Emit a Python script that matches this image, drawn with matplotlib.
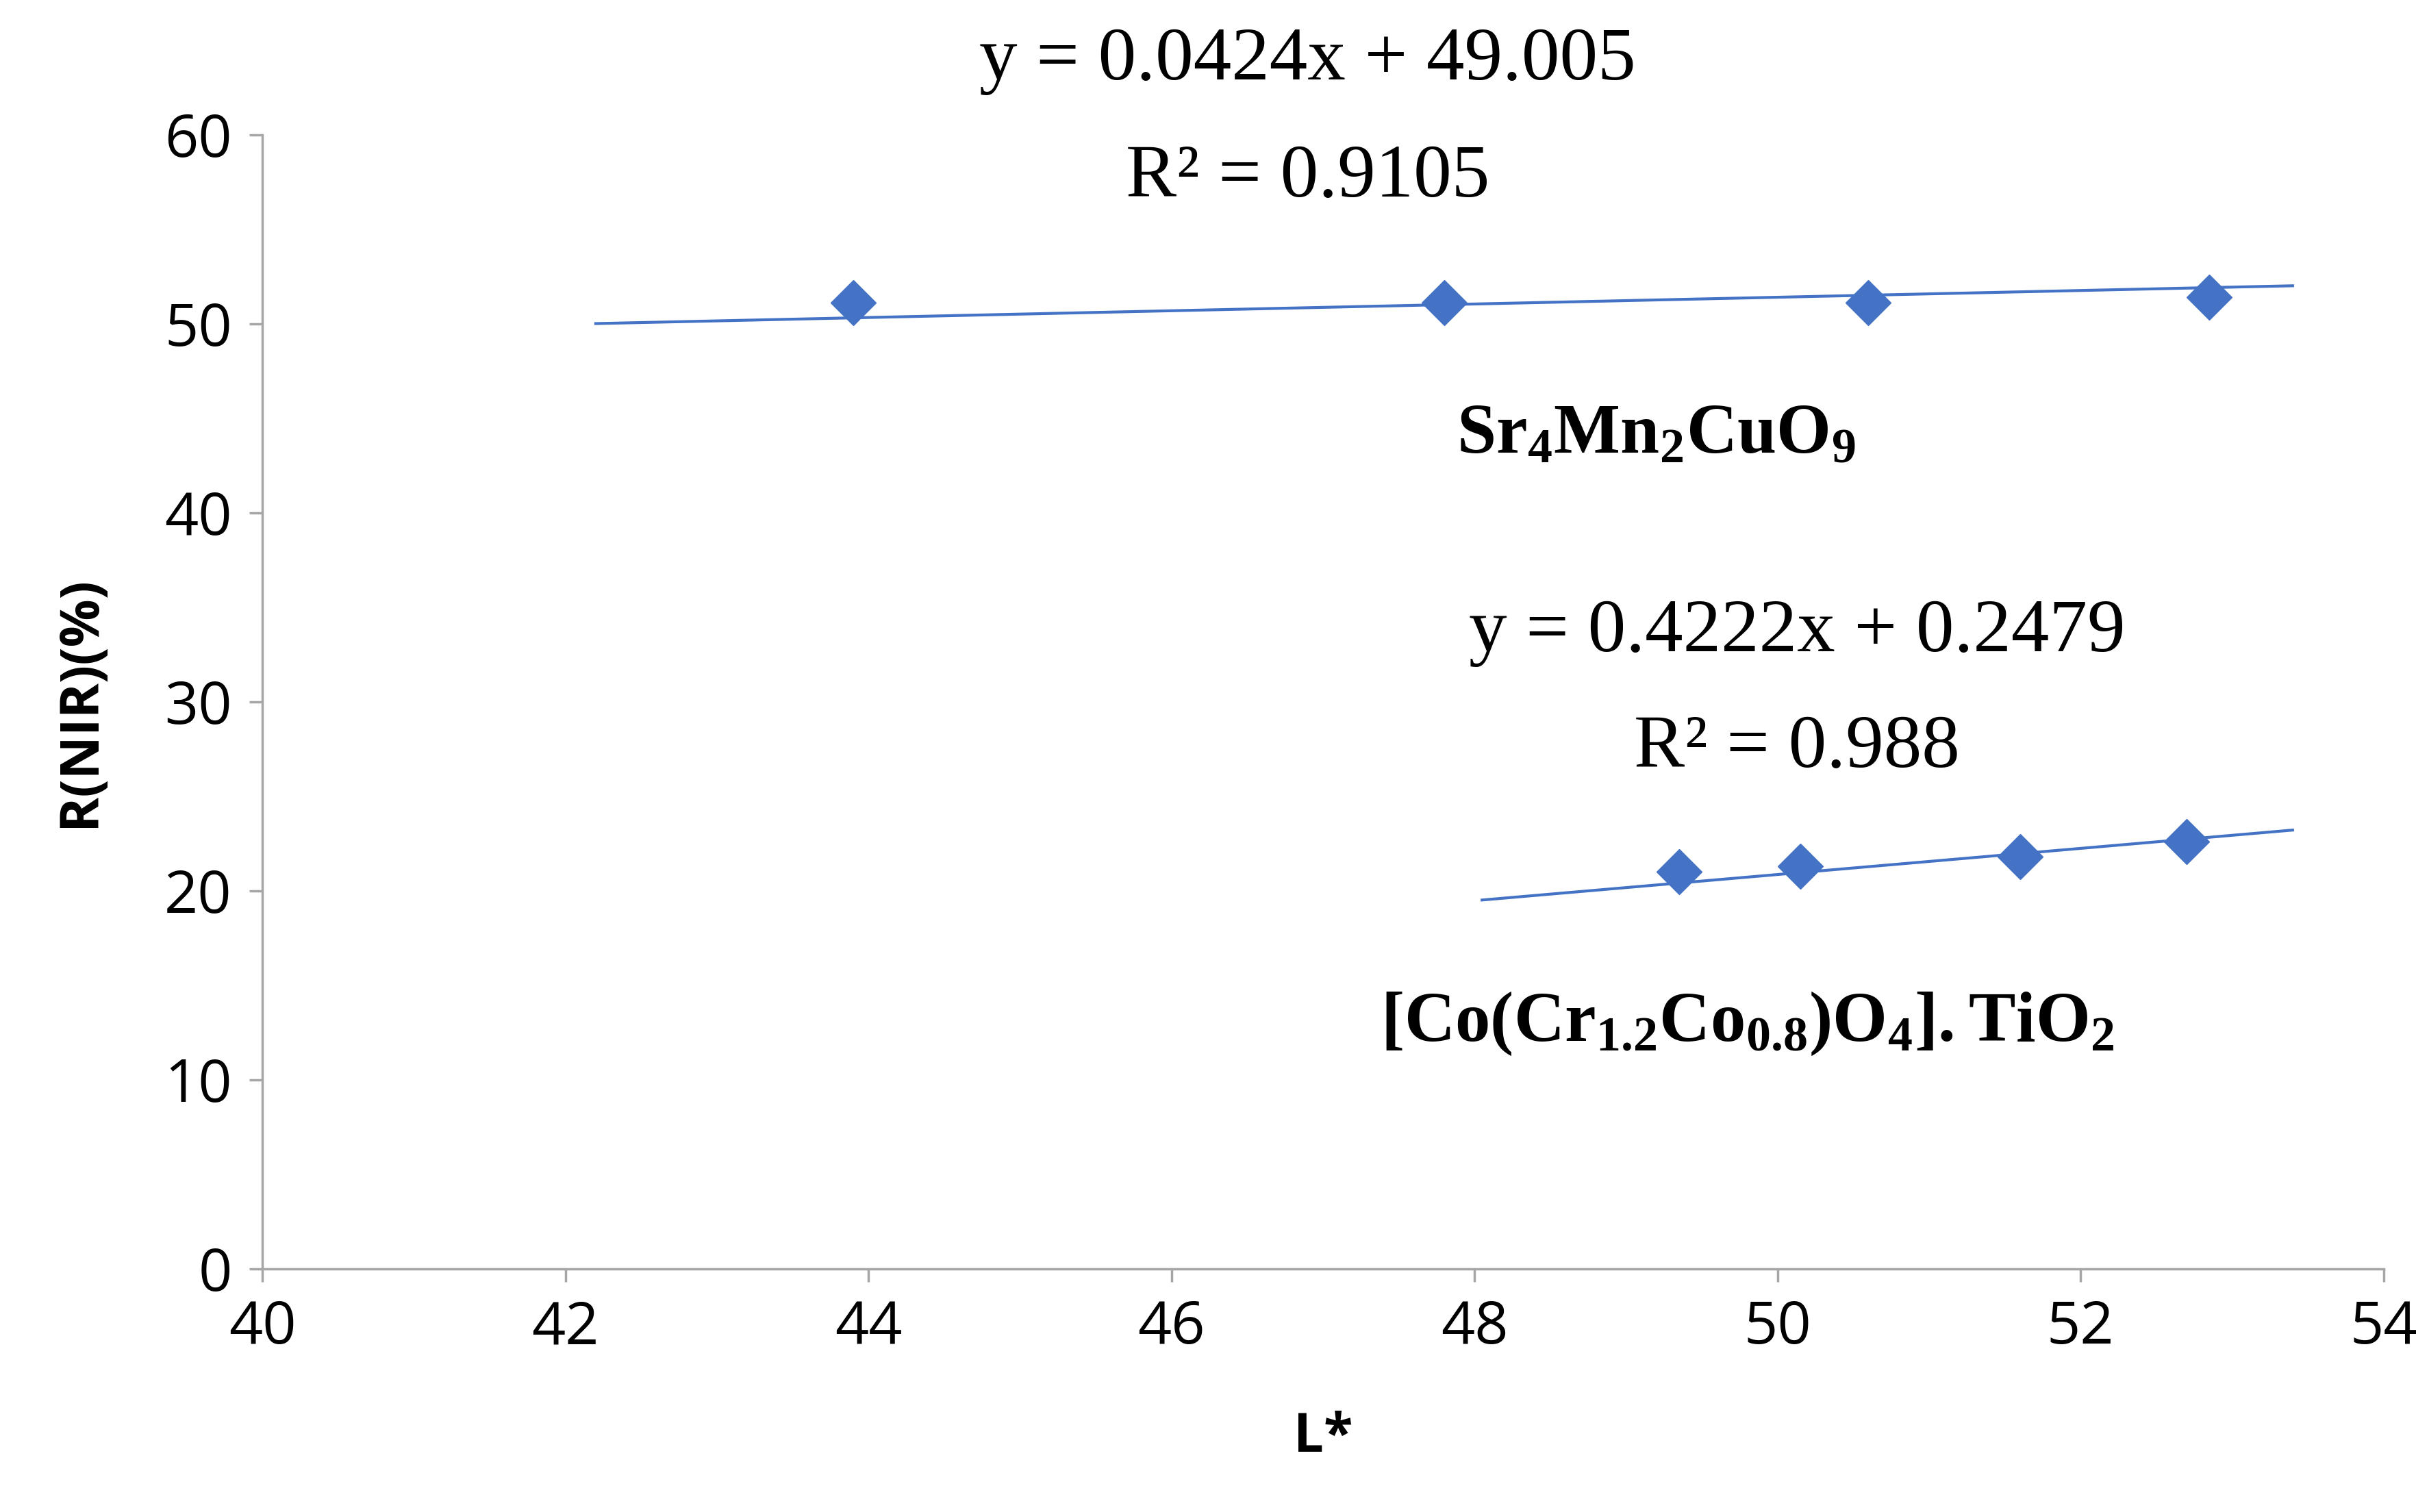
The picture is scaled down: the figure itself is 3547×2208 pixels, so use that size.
import matplotlib
matplotlib.use("Agg")
import matplotlib.pyplot as plt

# data
sr_x = [43.9, 47.8, 50.6, 52.85]
sr_y = [51.1, 51.1, 51.1, 51.4]
sr_trend_x = [42.2, 53.4]
sr_trend_y = [50.0, 52.0]

co_x = [49.35, 50.15, 51.6, 52.7]
co_y = [21.0, 21.3, 21.8, 22.6]
co_trend_x = [48.05, 53.4]
co_trend_y = [19.5, 23.2]

BLUE = "#4472C4"

plt.rcParams["mathtext.fontset"] = "custom"
plt.rcParams["mathtext.bf"] = "Liberation Serif:bold"
plt.rcParams["mathtext.rm"] = "Liberation Serif"

fig = plt.figure(figsize=(35.48, 22.08), dpi=100)
ax = fig.add_axes([0.108, 0.161, 0.873, 0.75])

ax.plot(sr_trend_x, sr_trend_y, color=BLUE, lw=3)
ax.plot(co_trend_x, co_trend_y, color=BLUE, lw=3)
ax.plot(sr_x, sr_y, "D", color=BLUE, ms=34, ls="none")
ax.plot(co_x, co_y, "D", color=BLUE, ms=34, ls="none")

ax.set_xlim(40, 54)
ax.set_ylim(0, 60)
ax.set_xticks(range(40, 55, 2))
ax.set_yticks(range(0, 61, 10))
for s in ["top", "right"]:
    ax.spines[s].set_visible(False)
for s in ["left", "bottom"]:
    ax.spines[s].set_color("#A6A6A6")
    ax.spines[s].set_linewidth(2.5)
ax.tick_params(labelsize=62, length=14, width=2.5, color="#A6A6A6", pad=18)
for lab in ax.get_xticklabels() + ax.get_yticklabels():
    lab.set_family("Open Sans")

ax.set_xlabel("L*", fontsize=56, fontweight="bold", family="Open Sans", labelpad=55)
ax.set_ylabel("R(NIR)(%)", fontsize=56, fontweight="bold", family="Open Sans", labelpad=60)

serif = "Liberation Serif"
ax.text(46.9, 63.9, "y = 0.0424x + 49.005", fontsize=80, family=serif,
        ha="center", va="center", clip_on=False)
ax.text(46.9, 57.7, "R² = 0.9105", fontsize=80, family=serif,
        ha="center", va="center", clip_on=False)
ax.text(49.2, 44.2, r"$\mathbf{Sr_4Mn_2CuO_9}$", fontsize=74,
        ha="center", va="center")
ax.text(50.13, 33.65, "y = 0.4222x + 0.2479", fontsize=80, family=serif,
        ha="center", va="center")
ax.text(50.13, 27.5, "R² = 0.988", fontsize=80, family=serif,
        ha="center", va="center")
ax.text(49.8, 13.0, r"$\mathbf{[Co(Cr_{1.2}Co_{0.8})O_4].TiO_2}$", fontsize=74,
        ha="center", va="center")

fig.savefig("out.png", dpi=100)
